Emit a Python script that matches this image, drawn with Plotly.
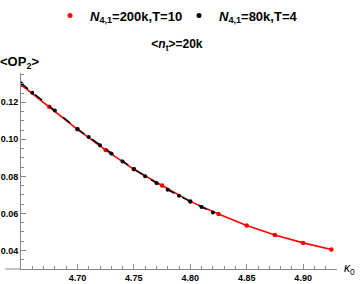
import plotly.graph_objects as go

# Data
k_red = [4.65, 4.675, 4.70, 4.725, 4.75, 4.775, 4.80, 4.825, 4.85, 4.875, 4.90, 4.925]
op_red = [0.1295, 0.1176, 0.1054, 0.0942, 0.0838, 0.0751, 0.0665, 0.0597, 0.0535, 0.0484, 0.0441, 0.0405]

k_black = [4.65, 4.66, 4.68, 4.70, 4.71, 4.72, 4.73, 4.74, 4.75, 4.76, 4.77, 4.78, 4.79, 4.80, 4.81, 4.82]
op_black = [0.1303, 0.1252, 0.1155, 0.1056, 0.1012, 0.0968, 0.0924, 0.0880, 0.0840, 0.0801, 0.0764,
            0.0728, 0.0695, 0.0664, 0.0634, 0.0605]

x_ticks = [4.70, 4.75, 4.80, 4.85, 4.90]
x_tick_labels = ["4.70", "4.75", "4.80", "4.85", "4.90"]
y_ticks = [0.04, 0.06, 0.08, 0.10, 0.12]
y_tick_labels = ["0.04", "0.06", "0.08", "0.10", "0.12"]

name_red = "<b><i>N</i><sub>4,1</sub>=200k,T=10</b>"
name_black = "<b><i>N</i><sub>4,1</sub>=80k,T=4</b>"

fig = go.Figure()
fig.add_trace(go.Scatter(x=k_red, y=op_red, mode="lines+markers",
                         line=dict(color="#ff0000", width=1.6),
                         marker=dict(color="#ff0000", size=4.5),
                         showlegend=False))
fig.add_trace(go.Scatter(x=k_black, y=op_black, mode="lines+markers",
                         line=dict(color="black", width=1.5, dash="dash"),
                         marker=dict(color="black", size=4),
                         showlegend=False))
# legend-only entries (dot markers)
fig.add_trace(go.Scatter(x=[None], y=[None], mode="markers", name=name_red,
                         marker=dict(color="#ff0000", size=5)))
fig.add_trace(go.Scatter(x=[None], y=[None], mode="markers", name=name_black,
                         marker=dict(color="black", size=5)))

axis_font = dict(family="Liberation Sans, Arial, sans-serif", size=9, color="black", weight="bold")
fig.update_layout(
    width=361, height=284,
    margin=dict(l=21, r=24, t=73, b=15),
    paper_bgcolor="white", plot_bgcolor="white",
    font=dict(family="Liberation Sans, Arial, sans-serif", color="black"),
    legend=dict(orientation="h", x=0.5, xanchor="center", y=0.945, yref="container",
                yanchor="middle", font=dict(size=13, color="black"),
                itemwidth=30, entrywidth=84, tracegroupgap=0, bgcolor="rgba(0,0,0,0)"),
    title=dict(text="<b>&lt;<i>n</i><sub>t</sub>&gt;=20k</b>", x=0.49, xanchor="center",
               y=0.845, yanchor="middle", font=dict(size=12, color="black")),
    xaxis=dict(range=[4.65, 4.93], tickvals=x_ticks, ticktext=x_tick_labels,
               automargin=False,
               showgrid=False, zeroline=False, showline=True, linecolor="#888888",
               linewidth=1, ticks="inside", ticklen=5, tickcolor="#888888",
               tickfont=axis_font,
               minor=dict(dtick=0.01, tick0=4.65, ticks="inside", ticklen=3,
                          tickcolor="#888888", showgrid=False)),
    yaxis=dict(range=[0.03, 0.1358], tickvals=y_ticks, ticktext=y_tick_labels,
               automargin=False,
               showgrid=False, zeroline=False, showline=True, linecolor="#888888",
               linewidth=1, ticks="inside", ticklen=5, tickcolor="#888888",
               tickfont=axis_font,
               minor=dict(dtick=0.005, tick0=0.03, ticks="inside", ticklen=3,
                          tickcolor="#888888", showgrid=False)),
    annotations=[
        dict(text="<b>&lt;OP<sub>2</sub>&gt;</b>", xref="paper", yref="paper",
             x=-0.072, y=1.056, xanchor="left", yanchor="middle", showarrow=False,
             font=dict(size=13, color="black")),
        dict(text="<i>κ</i><sub>0</sub>", xref="paper", yref="paper",
             x=1.04, y=0.0, xanchor="center", yanchor="middle", showarrow=False,
             font=dict(size=12, color="black")),
    ],
    shapes=[dict(type="line", xref="paper", yref="paper", x0=-0.05, x1=0, y0=0, y1=0,
                 line=dict(color="#888888", width=1))],
)
fig.write_html("out.html", config={"displayModeBar": False},
               post_script="document.body.style.margin='0';document.body.style.overflow='hidden';")
